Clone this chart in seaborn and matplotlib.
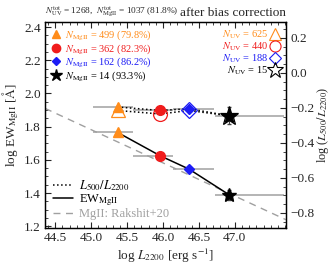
import pandas as pd
import matplotlib
matplotlib.use("Agg")
import matplotlib.pyplot as plt
import seaborn as sns
from matplotlib.lines import Line2D
from matplotlib.ticker import MultipleLocator

# --- data ---
bin_lo = [45.03, 45.58, 46.14, 46.72]
bin_hi = [45.58, 46.14, 46.71, 47.68]
logL = [45.37, 45.96, 46.36, 46.92]
ew_mg = [1.765, 1.625, 1.545, 1.39]
ew_err = [0.0, 0.0, 0.0, 0.03]
ratio_mg = [-0.195, -0.215, -0.205, -0.245]
ratio_uv = [-0.215, -0.235, -0.215, -0.245]
ratio_err = [0.0, 0.0, 0.0, 0.05]
n_mg = [499, 362, 162, 14]
frac_mg = [79.8, 82.3, 86.2, 93.3]
n_uv = [625, 440, 188, 15]
rak_x = [44.36, 47.71]
rak_y = [1.91, 1.24]
xticks = [44.5, 45.0, 45.5, 46.0, 46.5, 47.0]

colors = ['#ff8c1a', '#f01c1c', '#1c1cf5', 'black']
markers = ['^', 'o', 'D', '*']
msize_f = [7, 7, 5, 10]
msize_o = [10, 10, 8, 14]
GRAY = '#a0a0a0'

df = pd.DataFrame({'logL': logL, 'ew': ew_mg, 'r_mg': ratio_mg, 'r_uv': ratio_uv})

sns.set_theme(style="ticks")
plt.rcParams['font.family'] = ['Liberation Serif', 'DejaVu Serif']
plt.rcParams['mathtext.fontset'] = 'stix'

fig = plt.figure(figsize=(3.32, 2.66), dpi=100)
ax = fig.add_axes([0.136, 0.143, 0.725, 0.774])
ax2 = ax.twinx()

# Rakshit+20 relation
sns.lineplot(x=rak_x, y=rak_y, ax=ax, color=GRAY, lw=1.0, ls=(0, (5, 4)), legend=False)

# EW line
sns.lineplot(data=df, x='logL', y='ew', ax=ax, color='black', lw=1.1, legend=False, zorder=3)
for i in range(4):
    xc = logL[i]
    ax.errorbar(xc, ew_mg[i], xerr=[[xc - bin_lo[i]], [bin_hi[i] - xc]],
                fmt='none', ecolor=GRAY, elinewidth=1.1, zorder=2)
    if ew_err[i] > 0:
        ax.errorbar(xc, ew_mg[i], yerr=ew_err[i], fmt='none', ecolor='#444444',
                    elinewidth=0.8, capsize=1.5, zorder=2)
    ax.plot(xc, ew_mg[i], marker=markers[i], color=colors[i], ms=msize_f[i],
            ls='none', zorder=4)

# L500/L2200 lines (right axis)
sns.lineplot(data=df, x='logL', y='r_uv', ax=ax2, color='black', lw=1.1, ls=':', legend=False, zorder=3)
sns.lineplot(data=df, x='logL', y='r_mg', ax=ax2, color='black', lw=1.1, ls=':', legend=False, zorder=3)
for i in range(4):
    xc = logL[i]
    ax2.errorbar(xc, ratio_mg[i], xerr=[[xc - bin_lo[i]], [bin_hi[i] - xc]],
                 fmt='none', ecolor=GRAY, elinewidth=1.1, zorder=2)
    if ratio_err[i] > 0:
        ax2.errorbar(xc, ratio_mg[i], yerr=ratio_err[i], fmt='none', ecolor='#444444',
                     elinewidth=0.8, capsize=1.5, zorder=2)
    ax2.plot(xc, ratio_uv[i], marker=markers[i], mfc='none', mec=colors[i], mew=0.9,
             ms=msize_o[i], ls='none', zorder=4)
    ax2.plot(xc, ratio_mg[i], marker=markers[i], color=colors[i], ms=msize_f[i],
             ls='none', zorder=5)

ax.set_xlim(rak_x[0], rak_x[1])
ax.set_ylim(1.19, 2.43)
ax2.set_ylim(-0.886, 0.29)

ax.set_xticks(xticks)
ax.xaxis.set_minor_locator(MultipleLocator(0.1))
ax.yaxis.set_major_locator(MultipleLocator(0.2))
ax.yaxis.set_minor_locator(MultipleLocator(0.05))
ax2.yaxis.set_major_locator(MultipleLocator(0.2))
ax2.yaxis.set_minor_locator(MultipleLocator(0.05))
ax.tick_params(which='both', top=True, right=False, direction='in', labelsize=9.5, pad=3)
ax.tick_params(which='major', length=4, width=0.8)
ax.tick_params(which='minor', length=2, width=0.6)
ax2.tick_params(which='both', direction='in', labelsize=9.5, pad=3)
ax2.tick_params(which='major', length=4, width=0.8)
ax2.tick_params(which='minor', length=2, width=0.6)
for a in (ax, ax2):
    for s in a.spines.values():
        s.set_linewidth(0.9)
        s.set_color('black')

ax.set_xlabel(r'log $L_{2200}$ [erg s$^{-1}$]', fontsize=9.5, labelpad=2)
ax.set_ylabel(r'log EW$_{\rm MgII}$ [$\rm\AA$]', fontsize=9.5, labelpad=2)
ax2.set_ylabel(r'log ($L_{500}/L_{2200}$)', fontsize=8.8, labelpad=0.5)

# sample-size legends
h_mg = [Line2D([], [], marker=markers[i], color=colors[i], ms=msize_f[i] - 1, ls='none') for i in range(4)]
l_mg = [r'$N_{\rm MgII}$ = %d (%.1f%%)' % (n_mg[i], frac_mg[i]) for i in range(4)]
leg1 = ax.legend(h_mg, l_mg, loc='upper left', bbox_to_anchor=(0.0, 1.0), frameon=False,
                 fontsize=7.5, labelcolor=colors, handlelength=0.8, handletextpad=0.5,
                 labelspacing=-0.05, borderaxespad=0.2)
ax.add_artist(leg1)

h_uv = [Line2D([], [], marker=markers[i], mfc='none', mec=colors[i], mew=0.8,
               ms=msize_o[i] - 2, ls='none') for i in range(4)]
l_uv = [r'$N_{\rm UV}$ = %d' % n for n in n_uv]
leg2 = ax.legend(h_uv, l_uv, loc='upper right', bbox_to_anchor=(1.0, 1.0), frameon=False,
                 fontsize=7.5, labelcolor=colors, markerfirst=False, handlelength=0.8,
                 handletextpad=0.3, labelspacing=-0.05, borderaxespad=0.2)
ax.add_artist(leg2)

h_ln = [Line2D([], [], color='black', ls=':', lw=1.1),
        Line2D([], [], color='black', ls='-', lw=1.1),
        Line2D([], [], color=GRAY, ls=(0, (5, 4)), lw=1.0)]
l_ln = [r'$L_{500}/L_{2200}$', r'EW$_{\rm MgII}$', 'MgII: Rakshit+20']
leg3 = ax.legend(h_ln, l_ln, loc='lower left', frameon=False, fontsize=9.0,
                 labelcolor=['black', 'black', GRAY], handlelength=1.6,
                 handletextpad=0.5, labelspacing=0.0, borderaxespad=0.2)

ax.text(0.0, 1.015, r'$N_{\rm UV}^{\rm tot}$ = 1268,  $N_{\rm MgII}^{\rm tot}$ = 1037 (81.8%)',
        transform=ax.transAxes, fontsize=6.7, ha='left', va='bottom')
ax.text(1.0, 1.015, 'after bias correction', transform=ax.transAxes,
        fontsize=9.5, ha='right', va='bottom')

fig.savefig('out.png', dpi=100)
